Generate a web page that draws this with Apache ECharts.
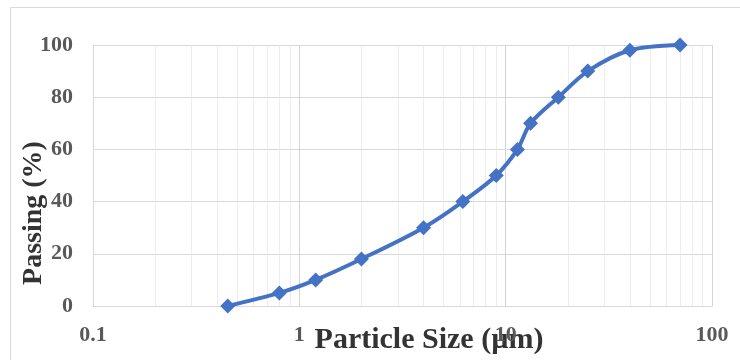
<!DOCTYPE html>
<html lang="en">
<head>
    <meta charset="UTF-8">
    <style>
    html,
    body {
        height: 100%;
        margin: 0;
        background: #fff;
    }
  </style>
</head>
<body>
<div id="chart" style="width:740px;height:360px;"></div>
<script src="https://cdn.jsdelivr.net/npm/echarts@6/dist/echarts.min.js"></script>
<script>
    // particle size (um) vs cumulative passing (%)
    var sizes = [0.45, 0.8, 1.2, 2.0, 4.0, 6.2, 9.0, 11.4, 13.2, 18, 25, 40, 70];
    var passing = [0, 5, 10, 18, 30, 40, 50, 60, 70, 80, 90, 98, 100];
    var yTicks = [0, 20, 40, 60, 80, 100];
    var xDecades = [0.1, 1, 10, 100];

    var serif = "'Liberation Serif', 'Times New Roman', serif";

    // minor log gridlines 0.2..0.9, 2..9, 20..90
    var minorLines = [];
    for (var d = 0; d < xDecades.length - 1; d++) {
        for (var k = 2; k <= 9; k++) {
            minorLines.push({ xAxis: +(xDecades[d] * k).toPrecision(3) });
        }
    }

    var points = [];
    for (var i = 0; i < sizes.length; i++) {
        points.push([sizes[i], passing[i]]);
    }

    var myChart = echarts.init(document.getElementById('chart'));
    myChart.setOption({
        animation: false,
        grid: { left: 93, right: 28, top: 45, bottom: 54 },
        xAxis: {
            type: 'log',
            logBase: 10,
            min: xDecades[0],
            max: xDecades[xDecades.length - 1],
            axisLine: { lineStyle: { color: '#d9d9d9', width: 1 } },
            axisTick: { show: false },
            axisLabel: {
                margin: 18,
                color: '#595959',
                fontFamily: serif,
                fontWeight: 'bold',
                fontSize: 22,
                formatter: function (v) { return String(v); }
            },
            splitLine: { show: true, lineStyle: { color: '#d4d4d4', width: 1 } }
        },
        yAxis: {
            type: 'value',
            min: yTicks[0],
            max: yTicks[yTicks.length - 1],
            interval: 20,
            axisLine: { show: true, lineStyle: { color: '#d9d9d9', width: 1 } },
            axisTick: { show: false },
            axisLabel: {
                margin: 20,
                color: '#595959',
                fontFamily: serif,
                fontWeight: 'bold',
                fontSize: 22
            },
            splitLine: { lineStyle: { color: '#d9d9d9', width: 1 } }
        },
        graphic: [
            {
                type: 'rect',
                z: -10,
                shape: { x: 10.5, y: 7.5, width: 800, height: 400 },
                style: { fill: 'none', stroke: '#d9d9d9', lineWidth: 1 }
            },
            {
                type: 'text',
                x: 429, y: 340,
                style: {
                    text: 'Particle Size (µm)',
                    font: 'bold 30px ' + serif,
                    fill: '#333333',
                    textAlign: 'center',
                    textVerticalAlign: 'middle'
                }
            },
            {
                type: 'text',
                x: 34, y: 213,
                rotation: Math.PI / 2,
                style: {
                    text: 'Passing (%)',
                    font: 'bold 28px ' + serif,
                    fill: '#333333',
                    textAlign: 'center',
                    textVerticalAlign: 'middle'
                }
            }
        ],
        series: [
            {
                type: 'line',
                data: points,
                smooth: 0.3,
                symbol: 'diamond',
                symbolSize: 15,
                lineStyle: { color: '#4472c4', width: 4 },
                itemStyle: { color: '#4472c4' },
                markLine: {
                    silent: true,
                    symbol: 'none',
                    z: 1,
                    label: { show: false },
                    lineStyle: { color: '#ececec', width: 1, type: 'solid' },
                    data: minorLines
                }
            }
        ]
    });
</script>
</body>
</html>
